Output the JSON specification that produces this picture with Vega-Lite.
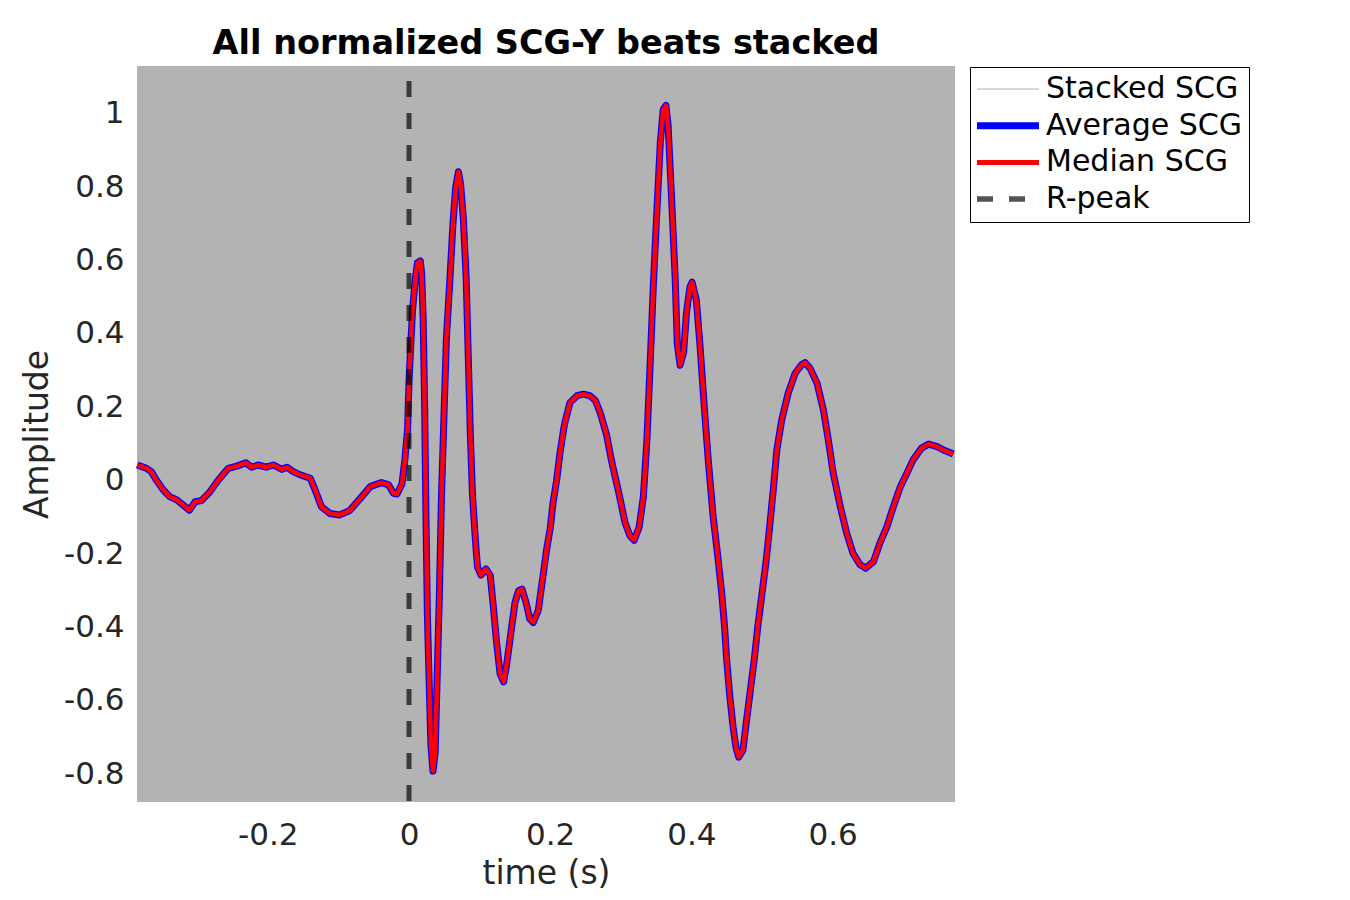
{
  "$schema": "https://vega.github.io/schema/vega-lite/v6.json",
  "width": 818,
  "height": 736,
  "autosize": {"type": "none"},
  "padding": {"left": 137, "top": 66, "right": 395, "bottom": 98},
  "background": "white",
  "title": {
    "text": "All normalized SCG-Y beats stacked",
    "font": "DejaVu Sans",
    "fontSize": 33.5,
    "fontWeight": "bold",
    "color": "black",
    "frame": "group",
    "anchor": "middle",
    "baseline": "alphabetic",
    "offset": -24
  },
  "data": {
    "values": [
      {"t": -0.385, "avg": 0.043, "med": 0.043},
      {"t": -0.372, "avg": 0.034, "med": 0.034},
      {"t": -0.365, "avg": 0.025, "med": 0.025},
      {"t": -0.358, "avg": 0.002, "med": 0.002},
      {"t": -0.348, "avg": -0.025, "med": -0.025},
      {"t": -0.339, "avg": -0.043, "med": -0.043},
      {"t": -0.329, "avg": -0.052, "med": -0.052},
      {"t": -0.320, "avg": -0.066, "med": -0.066},
      {"t": -0.311, "avg": -0.080, "med": -0.080},
      {"t": -0.303, "avg": -0.057, "med": -0.057},
      {"t": -0.294, "avg": -0.054, "med": -0.054},
      {"t": -0.282, "avg": -0.030, "med": -0.030},
      {"t": -0.270, "avg": 0.002, "med": 0.002},
      {"t": -0.256, "avg": 0.034, "med": 0.034},
      {"t": -0.244, "avg": 0.040, "med": 0.040},
      {"t": -0.231, "avg": 0.049, "med": 0.049},
      {"t": -0.223, "avg": 0.037, "med": 0.037},
      {"t": -0.214, "avg": 0.043, "med": 0.043},
      {"t": -0.202, "avg": 0.037, "med": 0.037},
      {"t": -0.192, "avg": 0.043, "med": 0.043},
      {"t": -0.180, "avg": 0.031, "med": 0.031},
      {"t": -0.173, "avg": 0.037, "med": 0.037},
      {"t": -0.164, "avg": 0.025, "med": 0.025},
      {"t": -0.154, "avg": 0.016, "med": 0.016},
      {"t": -0.140, "avg": 0.007, "med": 0.007},
      {"t": -0.133, "avg": -0.025, "med": -0.025},
      {"t": -0.124, "avg": -0.071, "med": -0.071},
      {"t": -0.112, "avg": -0.089, "med": -0.089},
      {"t": -0.098, "avg": -0.093, "med": -0.093},
      {"t": -0.084, "avg": -0.081, "med": -0.081},
      {"t": -0.069, "avg": -0.048, "med": -0.048},
      {"t": -0.055, "avg": -0.016, "med": -0.016},
      {"t": -0.039, "avg": -0.005, "med": -0.005},
      {"t": -0.029, "avg": -0.011, "med": -0.011},
      {"t": -0.022, "avg": -0.034, "med": -0.034},
      {"t": -0.017, "avg": -0.036, "med": -0.036},
      {"t": -0.010, "avg": -0.009, "med": -0.009},
      {"t": -0.006, "avg": 0.055, "med": 0.055},
      {"t": -0.002, "avg": 0.141, "med": 0.141},
      {"t": 0.000, "avg": 0.271, "med": 0.271},
      {"t": 0.003, "avg": 0.389, "med": 0.389},
      {"t": 0.005, "avg": 0.465, "med": 0.465},
      {"t": 0.009, "avg": 0.551, "med": 0.551},
      {"t": 0.012, "avg": 0.594, "med": 0.594},
      {"t": 0.016, "avg": 0.599, "med": 0.599},
      {"t": 0.018, "avg": 0.562, "med": 0.562},
      {"t": 0.020, "avg": 0.444, "med": 0.444},
      {"t": 0.022, "avg": 0.228, "med": 0.228},
      {"t": 0.024, "avg": -0.096, "med": -0.096},
      {"t": 0.026, "avg": -0.365, "med": -0.365},
      {"t": 0.029, "avg": -0.580, "med": -0.580},
      {"t": 0.031, "avg": -0.720, "med": -0.720},
      {"t": 0.034, "avg": -0.791, "med": -0.791},
      {"t": 0.037, "avg": -0.742, "med": -0.742},
      {"t": 0.040, "avg": -0.526, "med": -0.526},
      {"t": 0.043, "avg": -0.311, "med": -0.311},
      {"t": 0.046, "avg": -0.041, "med": -0.041},
      {"t": 0.050, "avg": 0.207, "med": 0.207},
      {"t": 0.053, "avg": 0.389, "med": 0.389},
      {"t": 0.058, "avg": 0.551, "med": 0.551},
      {"t": 0.062, "avg": 0.692, "med": 0.692},
      {"t": 0.066, "avg": 0.799, "med": 0.799},
      {"t": 0.070, "avg": 0.842, "med": 0.842},
      {"t": 0.073, "avg": 0.810, "med": 0.810},
      {"t": 0.077, "avg": 0.713, "med": 0.713},
      {"t": 0.081, "avg": 0.551, "med": 0.551},
      {"t": 0.084, "avg": 0.335, "med": 0.335},
      {"t": 0.087, "avg": 0.120, "med": 0.120},
      {"t": 0.090, "avg": -0.041, "med": -0.041},
      {"t": 0.094, "avg": -0.160, "med": -0.160},
      {"t": 0.097, "avg": -0.235, "med": -0.235},
      {"t": 0.102, "avg": -0.257, "med": -0.257},
      {"t": 0.109, "avg": -0.240, "med": -0.240},
      {"t": 0.115, "avg": -0.257, "med": -0.257},
      {"t": 0.119, "avg": -0.333, "med": -0.333},
      {"t": 0.124, "avg": -0.439, "med": -0.439},
      {"t": 0.129, "avg": -0.526, "med": -0.526},
      {"t": 0.134, "avg": -0.548, "med": -0.548},
      {"t": 0.138, "avg": -0.505, "med": -0.505},
      {"t": 0.144, "avg": -0.419, "med": -0.419},
      {"t": 0.150, "avg": -0.333, "med": -0.333},
      {"t": 0.155, "avg": -0.300, "med": -0.300},
      {"t": 0.160, "avg": -0.295, "med": -0.295},
      {"t": 0.166, "avg": -0.333, "med": -0.333},
      {"t": 0.171, "avg": -0.376, "med": -0.376},
      {"t": 0.176, "avg": -0.386, "med": -0.386},
      {"t": 0.183, "avg": -0.354, "med": -0.354},
      {"t": 0.190, "avg": -0.257, "med": -0.257},
      {"t": 0.195, "avg": -0.186, "med": -0.186},
      {"t": 0.200, "avg": -0.130, "med": -0.130},
      {"t": 0.204, "avg": -0.060, "med": -0.060},
      {"t": 0.209, "avg": 0.000, "med": 0.000},
      {"t": 0.214, "avg": 0.077, "med": 0.077},
      {"t": 0.219, "avg": 0.140, "med": 0.140},
      {"t": 0.221, "avg": 0.160, "med": 0.160},
      {"t": 0.228, "avg": 0.213, "med": 0.213},
      {"t": 0.238, "avg": 0.232, "med": 0.232},
      {"t": 0.247, "avg": 0.236, "med": 0.236},
      {"t": 0.256, "avg": 0.232, "med": 0.232},
      {"t": 0.264, "avg": 0.219, "med": 0.219},
      {"t": 0.271, "avg": 0.184, "med": 0.184},
      {"t": 0.280, "avg": 0.124, "med": 0.124},
      {"t": 0.287, "avg": 0.053, "med": 0.053},
      {"t": 0.297, "avg": -0.031, "med": -0.031},
      {"t": 0.306, "avg": -0.114, "med": -0.114},
      {"t": 0.313, "avg": -0.150, "med": -0.150},
      {"t": 0.319, "avg": -0.162, "med": -0.162},
      {"t": 0.326, "avg": -0.126, "med": -0.126},
      {"t": 0.332, "avg": -0.043, "med": -0.043},
      {"t": 0.337, "avg": 0.112, "med": 0.112},
      {"t": 0.341, "avg": 0.291, "med": 0.291},
      {"t": 0.346, "avg": 0.529, "med": 0.529},
      {"t": 0.351, "avg": 0.731, "med": 0.731},
      {"t": 0.356, "avg": 0.922, "med": 0.922},
      {"t": 0.360, "avg": 1.011, "med": 1.011},
      {"t": 0.364, "avg": 1.023, "med": 1.023},
      {"t": 0.367, "avg": 0.969, "med": 0.969},
      {"t": 0.372, "avg": 0.768, "med": 0.768},
      {"t": 0.377, "avg": 0.553, "med": 0.553},
      {"t": 0.380, "avg": 0.374, "med": 0.374},
      {"t": 0.384, "avg": 0.315, "med": 0.315},
      {"t": 0.389, "avg": 0.350, "med": 0.350},
      {"t": 0.393, "avg": 0.457, "med": 0.457},
      {"t": 0.398, "avg": 0.529, "med": 0.529},
      {"t": 0.401, "avg": 0.541, "med": 0.541},
      {"t": 0.407, "avg": 0.493, "med": 0.493},
      {"t": 0.412, "avg": 0.374, "med": 0.374},
      {"t": 0.418, "avg": 0.208, "med": 0.208},
      {"t": 0.424, "avg": 0.053, "med": 0.053},
      {"t": 0.431, "avg": -0.101, "med": -0.101},
      {"t": 0.438, "avg": -0.216, "med": -0.216},
      {"t": 0.443, "avg": -0.307, "med": -0.307},
      {"t": 0.447, "avg": -0.398, "med": -0.398},
      {"t": 0.450, "avg": -0.488, "med": -0.488},
      {"t": 0.454, "avg": -0.579, "med": -0.579},
      {"t": 0.459, "avg": -0.670, "med": -0.670},
      {"t": 0.463, "avg": -0.725, "med": -0.725},
      {"t": 0.467, "avg": -0.753, "med": -0.753},
      {"t": 0.473, "avg": -0.734, "med": -0.734},
      {"t": 0.477, "avg": -0.670, "med": -0.670},
      {"t": 0.483, "avg": -0.579, "med": -0.579},
      {"t": 0.489, "avg": -0.488, "med": -0.488},
      {"t": 0.494, "avg": -0.398, "med": -0.398},
      {"t": 0.500, "avg": -0.307, "med": -0.307},
      {"t": 0.506, "avg": -0.216, "med": -0.216},
      {"t": 0.509, "avg": -0.161, "med": -0.161},
      {"t": 0.516, "avg": -0.025, "med": -0.025},
      {"t": 0.521, "avg": 0.084, "med": 0.084},
      {"t": 0.528, "avg": 0.166, "med": 0.166},
      {"t": 0.537, "avg": 0.238, "med": 0.238},
      {"t": 0.547, "avg": 0.293, "med": 0.293},
      {"t": 0.556, "avg": 0.316, "med": 0.316},
      {"t": 0.561, "avg": 0.322, "med": 0.322},
      {"t": 0.568, "avg": 0.307, "med": 0.307},
      {"t": 0.578, "avg": 0.266, "med": 0.266},
      {"t": 0.587, "avg": 0.193, "med": 0.193},
      {"t": 0.594, "avg": 0.111, "med": 0.111},
      {"t": 0.601, "avg": 0.020, "med": 0.020},
      {"t": 0.611, "avg": -0.071, "med": -0.071},
      {"t": 0.620, "avg": -0.143, "med": -0.143},
      {"t": 0.629, "avg": -0.198, "med": -0.198},
      {"t": 0.639, "avg": -0.229, "med": -0.229},
      {"t": 0.647, "avg": -0.238, "med": -0.238},
      {"t": 0.658, "avg": -0.220, "med": -0.220},
      {"t": 0.667, "avg": -0.170, "med": -0.170},
      {"t": 0.677, "avg": -0.125, "med": -0.125},
      {"t": 0.686, "avg": -0.071, "med": -0.071},
      {"t": 0.696, "avg": -0.016, "med": -0.016},
      {"t": 0.705, "avg": 0.020, "med": 0.020},
      {"t": 0.714, "avg": 0.057, "med": 0.057},
      {"t": 0.726, "avg": 0.089, "med": 0.089},
      {"t": 0.736, "avg": 0.100, "med": 0.100},
      {"t": 0.748, "avg": 0.093, "med": 0.093},
      {"t": 0.757, "avg": 0.084, "med": 0.084},
      {"t": 0.771, "avg": 0.073, "med": 0.073}
    ]
  },
  "layer": [
    {
      "mark": {"type": "line", "strokeWidth": 7, "strokeJoin": "round"},
      "encoding": {
        "x": {
          "field": "t",
          "type": "quantitative",
          "scale": {"domain": [-0.3853, 0.7734], "nice": false, "zero": false},
          "axis": {
            "values": [-0.2, 0, 0.2, 0.4, 0.6],
            "labelExpr": "datum.value < 0 ? '-' + format(-datum.value, '~g') : format(datum.value, '~g')",
            "labelBaseline": "alphabetic",
            "labelPadding": 42,
            "labelFlush": false,
            "title": "time (s)",
            "titleY": 81,
            "titleBaseline": "alphabetic"
          }
        },
        "y": {
          "field": "avg",
          "type": "quantitative",
          "scale": {"domain": [-0.8752, 1.1302], "nice": false, "zero": false},
          "axis": {
            "values": [-0.8, -0.6, -0.4, -0.2, 0, 0.2, 0.4, 0.6, 0.8, 1],
            "labelExpr": "datum.value < 0 ? '-' + format(-datum.value, '~g') : format(datum.value, '~g')",
            "labelBaseline": "middle",
            "labelPadding": 13,
            "title": "Amplitude",
            "titleAngle": 270,
            "titleX": -90,
            "titleBaseline": "alphabetic"
          }
        },
        "color": {
          "datum": "Average SCG",
          "scale": {
            "domain": ["Stacked SCG", "Average SCG", "Median SCG", "R-peak"],
            "range": ["#b0b0b0", "#0000ff", "#ff0000", "rgba(0,0,0,0.68)"]
          },
          "legend": {
            "title": null,
            "orient": "none",
            "legendX": 833,
            "legendY": 1,
            "symbolType": "M-3,0H9.4",
            "symbolSize": 100,
            "labelOffset": 39,
            "encode": {
              "symbols": {
                "update": {
                  "strokeWidth": {"signal": "datum.value === 'Average SCG' ? 7 : datum.value === 'Median SCG' ? 5 : datum.value === 'R-peak' ? 5.5 : 1"},
                  "strokeDash": {"signal": "datum.value === 'R-peak' ? [16, 16] : [1, 0]"}
                }
              }
            }
          }
        }
      }
    },
    {
      "mark": {"type": "line", "strokeWidth": 4.5, "strokeJoin": "round"},
      "encoding": {
        "x": {"field": "t", "type": "quantitative"},
        "y": {"field": "med", "type": "quantitative", "title": "Amplitude"},
        "color": {"datum": "Median SCG"}
      }
    },
    {
      "data": {"values": [{"t": 0}]},
      "mark": {"type": "rule", "strokeWidth": 5, "strokeDash": [16, 16], "strokeDashOffset": 17},
      "encoding": {
        "x": {"field": "t", "type": "quantitative"},
        "color": {"datum": "R-peak"}
      }
    }
  ],
  "config": {
    "font": "DejaVu Sans",
    "view": {"fill": "#b3b3b3", "stroke": null},
    "axis": {
      "grid": false,
      "domain": false,
      "ticks": false,
      "tickSize": 0,
      "labelFont": "DejaVu Sans",
      "labelFontSize": 31,
      "labelColor": "#262626",
      "titleFont": "DejaVu Sans",
      "titleFontSize": 33,
      "titleFontWeight": "normal",
      "titleColor": "#262626"
    },
    "legend": {
      "labelFont": "DejaVu Sans",
      "labelFontSize": 30,
      "labelColor": "black",
      "labelLimit": 400,
      "rowPadding": 6.7,
      "padding": 7,
      "strokeColor": "black",
      "fillColor": "white",
      "symbolStrokeWidth": 1
    }
  }
}
